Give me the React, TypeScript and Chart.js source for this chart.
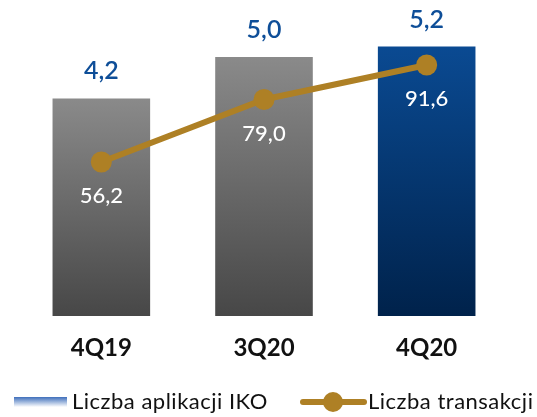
import React, { useEffect, useRef } from "react";
import { Chart, registerables } from "chart.js";

Chart.register(...registerables);

const categories = ["4Q19", "3Q20", "4Q20"];
const appValues = [4.2, 5.0, 5.2];
const txValues = [56.2, 79.0, 91.6];
const appLabels = ["4,2", "5,0", "5,2"];
const txLabels = ["56,2", "79,0", "91,6"];
const legendLabels = ["Liczba aplikacji IKO", "Liczba transakcji"];

const FONT = "Lato, 'Open Sans', sans-serif";
const GOLD = "#ae8025";
const BLUE_TEXT = "#0e4e98";

export default function App() {
  const ref = useRef<HTMLCanvasElement | null>(null);

  useEffect(() => {
    const canvas = ref.current;
    if (!canvas) return;

    const labelsPlugin = {
      id: "customLabels",
      afterDatasetsDraw(chart: any) {
        const ctx = chart.ctx;
        const barMeta = chart.getDatasetMeta(1);
        const lineMeta = chart.getDatasetMeta(0);
        ctx.save();
        ctx.textAlign = "center";
        ctx.textBaseline = "middle";
        // bar value labels
        ctx.font = `600 25px ${FONT}`;
        ctx.fillStyle = BLUE_TEXT;
        barMeta.data.forEach((el: any, i: number) => {
          ctx.fillText(appLabels[i], el.x, el.y - 27);
        });
        // line value labels
        ctx.font = `500 22px ${FONT}`;
        ctx.fillStyle = "#ffffff";
        lineMeta.data.forEach((el: any, i: number) => {
          ctx.fillText(txLabels[i], el.x, el.y + 34);
        });
        // category labels
        ctx.font = `bold 24px ${FONT}`;
        ctx.fillStyle = "#111111";
        barMeta.data.forEach((el: any, i: number) => {
          ctx.fillText(categories[i], el.x, 348);
        });
        // legend
        const ly = 402;
        const g = ctx.createLinearGradient(0, 397, 0, 407);
        g.addColorStop(0, "#3f6fbb");
        g.addColorStop(1, "#ffffff");
        ctx.fillStyle = g;
        ctx.fillRect(14, 397, 53, 10);
        ctx.font = `22px ${FONT}`;
        (ctx as any).letterSpacing = "0.5px";
        ctx.fillStyle = "#111111";
        ctx.textAlign = "left";
        ctx.fillText(legendLabels[0], 72, ly);
        ctx.strokeStyle = GOLD;
        ctx.lineWidth = 6;
        ctx.lineCap = "round";
        ctx.beginPath();
        ctx.moveTo(303, ly);
        ctx.lineTo(364, ly);
        ctx.stroke();
        ctx.fillStyle = GOLD;
        ctx.beginPath();
        ctx.arc(333, ly, 10, 0, Math.PI * 2);
        ctx.fill();
        ctx.fillStyle = "#111111";
        ctx.fillText(legendLabels[1], 368, ly);
        ctx.restore();
      },
    };

    const barColor = (c: any) => {
      const chart = c.chart;
      const area = chart.chartArea;
      if (!area) return "#777";
      const i = c.dataIndex;
      const ys = chart.scales.y;
      const top = ys.getPixelForValue(appValues[i]);
      const bottom = ys.getPixelForValue(0);
      const g = chart.ctx.createLinearGradient(0, top, 0, bottom);
      if (i === 2) {
        g.addColorStop(0, "#0a4a92");
        g.addColorStop(1, "#00224b");
      } else {
        g.addColorStop(0, "#8a8a8a");
        g.addColorStop(1, "#474747");
      }
      return g;
    };

    const chart = new Chart(canvas, {
      data: {
        labels: categories,
        datasets: [
          {
            type: "line",
            label: legendLabels[1],
            data: txValues,
            yAxisID: "y2",
            borderColor: GOLD,
            backgroundColor: GOLD,
            borderWidth: 6,
            pointRadius: 10.5,
            pointHoverRadius: 10.5,
            pointBackgroundColor: GOLD,
            pointBorderWidth: 0,
            order: 0,
          } as any,
          {
            type: "bar",
            label: legendLabels[0],
            data: appValues,
            yAxisID: "y",
            backgroundColor: barColor,
            categoryPercentage: 1,
            barPercentage: 0.6,
            order: 1,
          } as any,
        ],
      },
      options: {
        animation: false,
        responsive: false,
        maintainAspectRatio: false,
        layout: { autoPadding: false, padding: { left: 20, right: 29, top: 0, bottom: 101 } },
        plugins: { legend: { display: false }, tooltip: { enabled: false } },
        scales: {
          x: { display: false, offset: true },
          y: { display: false, min: 0, max: 6.1 },
          y2: { display: false, min: 0, max: 115.3, position: "right" },
        },
      },
      plugins: [labelsPlugin],
    });

    return () => chart.destroy();
  }, []);

  return (
    <div style={{ position: "fixed", left: 0, top: 0, width: 537, height: 417, background: "#fff" }}>
      <canvas ref={ref} width={537} height={417} style={{ width: 537, height: 417 }} />
    </div>
  );
}
